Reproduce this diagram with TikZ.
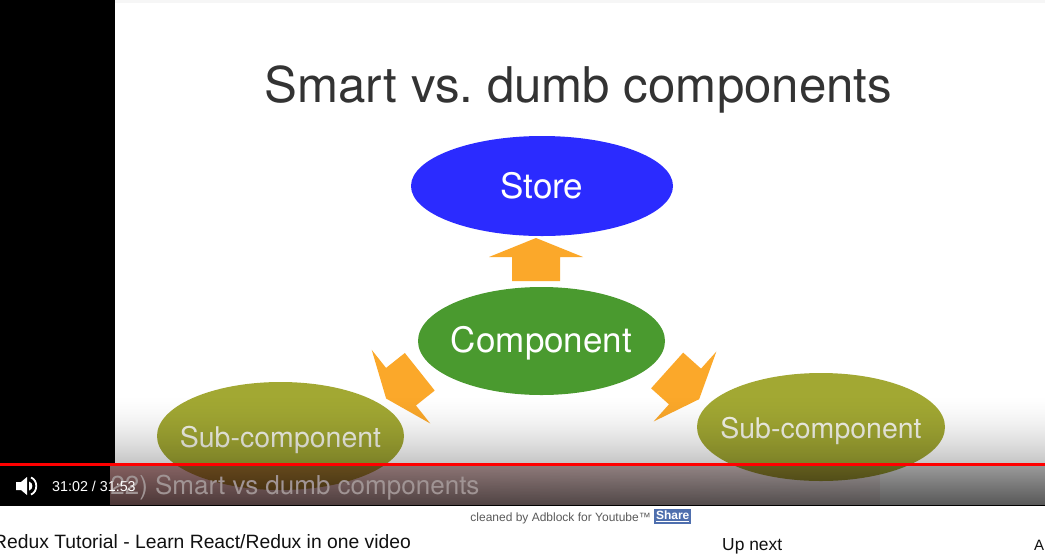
\documentclass[tikz,border=0pt]{standalone}
\usepackage{fontspec}
\setmainfont{TeX Gyre Heros}
\newfontfamily\uifont{Liberation Sans}
\usetikzlibrary{shapes.geometric}
\definecolor{storeblue}{HTML}{2B2BFF}
\definecolor{compgreen}{HTML}{4A9A2F}
\definecolor{subolive}{HTML}{A2A833}
\definecolor{arroworange}{HTML}{FBA82A}
\definecolor{titlegray}{HTML}{333333}
\definecolor{sharebox}{HTML}{4F6FAE}
\definecolor{slidetop}{HTML}{F6F6F6}
\definecolor{ytred}{HTML}{FF0000}
\definecolor{tintred}{HTML}{B02828}
\definecolor{subtitlegray}{HTML}{A09494}
\definecolor{subtext}{HTML}{F4F4E8}
\definecolor{pagegray}{HTML}{5A5A5A}
\definecolor{pagetext}{HTML}{111111}
\tikzset{
  bubble/.style={ellipse, inner sep=0pt, draw=none},
  bubbletext/.style={inner sep=0pt, anchor=base, text=white},
  titletext/.style={text=titlegray, font=\fontsize{49.2}{56}\selectfont, inner sep=0pt},
  blockarrow/.pic={\fill[arroworange] (-24,24) -- (-24,0) -- (-47,0) -- (0,-19) -- (47,0) -- (24,0) -- (24,24) -- cycle;},
  uitext/.style={font=\uifont, inner sep=0pt}
}
\begin{document}
\begin{tikzpicture}[x=1pt,y=-1pt]
\clip (0,0) rectangle (1045,558);
% page and slide background
\fill[white] (0,0) rectangle (1045,558);
\fill[slidetop] (115,0) rectangle (1045,3);
\fill[black] (0,0) rectangle (115,466);

% title
\node[titletext, anchor=base] (title) at (578.5,102) {Smart vs.\ dumb components};

% bubbles
\node[bubble, fill=storeblue, minimum width=262, minimum height=100] (store) at (542,186) {};
\node[bubble, fill=compgreen, minimum width=247, minimum height=108] (comp) at (541.5,341) {};
\node[bubble, fill=subolive, minimum width=247, minimum height=108] (subl) at (280.5,436) {};
\node[bubble, fill=subolive, minimum width=248, minimum height=108] (subr) at (821,427) {};
\node[bubbletext, font=\fontsize{35}{40}\selectfont] (storeT) at ([yshift=-12.5]store.center) {Store};
\node[bubbletext, font=\fontsize{35}{40}\selectfont] (compT) at ([yshift=-11]comp.center) {Component};
\node[bubbletext, text=subtext, font=\fontsize{28.5}{34}\selectfont] (sublT) at ([yshift=-11]subl.center) {Sub-component};
\node[bubbletext, text=subtext, font=\fontsize{28.5}{34}\selectfont] (subrT) at ([yshift=-11]subr.center) {Sub-component};

% block arrows
\coordinate (upA) at (536,257);
\coordinate (leftA) at (401,386.7);
\coordinate (rightA) at (685,386.5);
\pic at (upA) {blockarrow};
\pic[rotate=128.5] at (leftA) {blockarrow};
\pic[rotate=-131.9] at (rightA) {blockarrow};

% player gradient above progress bar
\foreach \i in {0,...,67}{
  \pgfmathsetmacro\op{0.22*((\i+1)/68)^1.6}
  \fill[black, fill opacity=\op] (115,395+\i) rectangle (1045,396+\i);
}
% control band: red tint
\foreach \j in {0,...,76}{
  \pgfmathsetmacro\rop{0.45-0.37*\j/76}
  \fill[tintred, fill opacity=\rop] (110+10*\j,466) rectangle (120+10*\j,505);
}
% control band: dark gradient
\foreach \i in {0,...,38}{
  \pgfmathsetmacro\op{0.40+0.25*\i/38}
  \fill[black, fill opacity=\op] (110,466+\i) rectangle (1045,467+\i);
}
% progress bar
\fill[ytred] (0,463) rectangle (1045,466);

% subtitle of the video
\node[anchor=base west, inner sep=0pt, text=subtitlegray, font=\fontsize{26}{30}\selectfont] (subtitle) at (101.5,494) {(22) Smart vs dumb components};
\fill[black] (0,466) rectangle (110,505);

% speaker icon
\fill[white] (16,482) -- (21,482) -- (27,477) -- (27,495) -- (21,490) -- (16,490) -- cycle;
\fill[white] (29,481.5) .. controls (33.5,482.5) and (33.5,489.5) .. (29,490.5) -- cycle;
\draw[white, line width=1.8] (31,477.5) .. controls (38,480) and (38,492) .. (31,494.5);

% time
\node[uitext, anchor=base west, text=white, font=\uifont\fontsize{14.3}{16}\selectfont] (time) at (52,491) {31:02 / 31:53};

% bottom edge of the video
\fill[black] (0,505) rectangle (1045,506);

% page texts below
\node[uitext, anchor=base east, text=pagegray, font=\uifont\fontsize{12}{14}\selectfont] (adblock) at (651,521) {cleaned by Adblock for Youtube™};
\node[fill=sharebox, text=white, font=\uifont\bfseries\fontsize{12}{14}\selectfont, inner sep=0pt,
      minimum width=37, minimum height=15, anchor=west] (share) at (654,516.5) {\underline{Share}};
\node[uitext, anchor=base west, text=pagetext, font=\uifont\fontsize{19.3}{22}\selectfont] (vtitle) at (-7,548) {Redux Tutorial - Learn React/Redux in one video};
\node[uitext, anchor=base west, text=pagetext, font=\uifont\fontsize{17.4}{20}\selectfont] (upnext) at (722,550) {Up next};
\node[uitext, anchor=base west, text=pagetext, font=\uifont\fontsize{15}{18}\selectfont] (autoplay) at (1034,550) {AUTOPLAY};
\end{tikzpicture}
\end{document}
